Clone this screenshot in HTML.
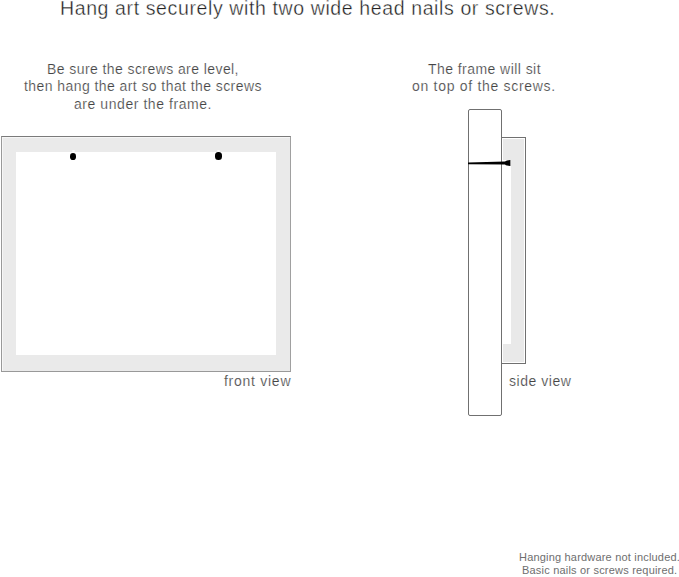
<!DOCTYPE html>
<html><head><meta charset="utf-8">
<style>
html,body{margin:0;padding:0;background:#fff;}
body{width:679px;height:577px;position:relative;overflow:hidden;font-family:"Liberation Sans",sans-serif;}
.t{position:absolute;white-space:nowrap;line-height:1;}
.c{text-align:center;}
#h{left:60px;top:-1px;font-size:19.5px;letter-spacing:0.615px;color:#222;-webkit-text-stroke:0.35px #fff;}
.p{font-size:14px;color:#444;-webkit-text-stroke:0.2px #fff;}
#l1{left:47px;top:62px;letter-spacing:0.42px;}
#l2{left:24px;top:79px;letter-spacing:0.425px;}
#l3{left:74px;top:97px;letter-spacing:0.56px;}
#r1{left:428px;top:62px;letter-spacing:0.441px;}
#r2{left:412px;top:79px;letter-spacing:0.7px;}
#fv{left:224px;top:374px;letter-spacing:0.731px;}
#sv{left:509px;top:374px;letter-spacing:0.53px;}
.f{font-size:11px;color:#6e6e6e;}
#f1{left:519px;top:552px;letter-spacing:0.19px;}
#f2{left:522px;top:565px;letter-spacing:0.2px;}
.box{position:absolute;box-sizing:border-box;}
</style></head><body>
<div class="t" id="h">Hang art securely with two wide head nails or screws.</div>
<div class="t p" id="l1">Be sure the screws are level,</div>
<div class="t p" id="l2">then hang the art so that the screws</div>
<div class="t p" id="l3">are under the frame.</div>
<div class="t p" id="r1">The frame will sit</div>
<div class="t p" id="r2">on top of the screws.</div>
<div class="t p" id="fv">front view</div>
<div class="t p" id="sv">side view</div>
<div class="t f" id="f1">Hanging hardware not included.</div>
<div class="t f" id="f2">Basic nails or screws required.</div>

<!-- front view frame -->
<div class="box" style="left:1px;top:136px;width:290px;height:236px;border:1px solid;border-color:#7a7a7a #a0a0a0 #999 #999;background:#eaeaea;box-shadow:inset 1px 1px 0 #f6f6f6;"></div>
<div class="box" style="left:16px;top:152px;width:260px;height:203px;background:#fff;"></div>
<div class="box" style="left:69.9px;top:152.5px;width:6.3px;height:7px;border-radius:50%;background:#000;"></div>
<div class="box" style="left:215.2px;top:152.4px;width:6.6px;height:7.2px;border-radius:50%;background:#000;"></div>

<div class="box" style="left:71.5px;top:149.6px;width:3.2px;height:2.6px;border-radius:50%;background:#fafafa;filter:blur(0.5px);"></div>
<div class="box" style="left:217px;top:149.6px;width:3.2px;height:2.6px;border-radius:50%;background:#fafafa;filter:blur(0.5px);"></div>
<!-- side view -->
<div class="box" style="left:468px;top:109px;width:34px;height:307px;border:1px solid #707070;border-radius:2px;background:#fff;"></div>
<div class="box" style="left:501px;top:137px;width:25px;height:227px;border:1px solid #707070;background:#fff;"></div>
<div class="box" style="left:503px;top:139px;width:21px;height:223px;background:#e9e9e9;"></div>
<div class="box" style="left:502px;top:160px;width:9px;height:184px;background:#fff;"></div>
<svg style="position:absolute;left:0;top:0" width="679" height="577">
<path d="M468,162.6 L505,161.5 Q505.8,160.6 507,160.4 L510.4,160 L510.4,166 L507,165.6 Q505.8,165.4 505,164.5 L468,164.3 Z" fill="#000"/>
</svg>
</body></html>
